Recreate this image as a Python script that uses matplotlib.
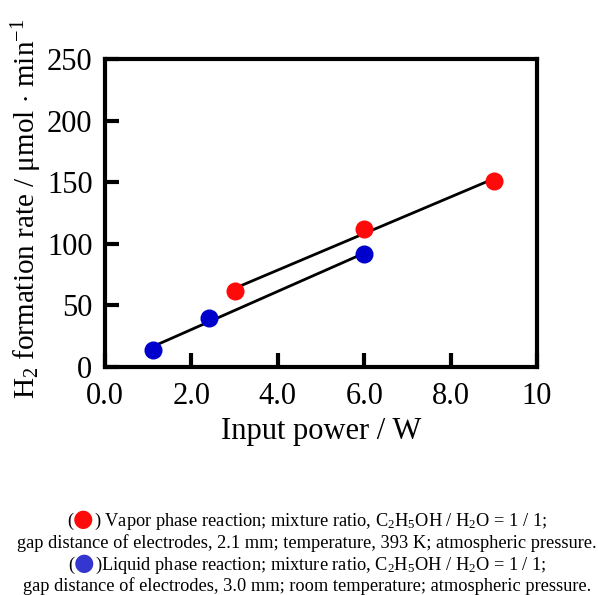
import numpy as np
import matplotlib
matplotlib.use("Agg")
import matplotlib.pyplot as plt
from matplotlib.ticker import FixedLocator, FixedFormatter

# datos
vapor_power = [3.0, 6.0, 9.0]
vapor_rate = [62, 112, 151]
liquid_power = [1.1, 2.4, 6.0]
liquid_rate = [14, 40, 91.5]

x_ticks = [0, 2, 4, 6, 8, 10]
x_tick_labels = ['0.0', '2.0', '4.0', '6.0', '8.0', '10']
y_ticks = [0, 50, 100, 150, 200, 250]

plt.rcParams['font.family'] = ['Liberation Serif', 'DejaVu Serif']
plt.rcParams['mathtext.fontset'] = 'custom'
plt.rcParams['mathtext.rm'] = 'Liberation Serif'
plt.rcParams['mathtext.it'] = 'Liberation Serif:italic'

RED = '#ff0a0a'
BLUE = '#0000cc'


def fit_line(ax, x, y):
    # recta de ajuste por minimos cuadrados entre el primer y el ultimo punto
    p = np.polyfit(x, y, 1)
    xs = np.array([min(x), max(x)])
    ax.plot(xs, np.polyval(p, xs), color='black', lw=2, zorder=2)


def centered_line(fig, y_px, parts, size, cx_px):
    # arma una linea de texto con partes de distinto color, centrada en cx_px
    r = fig.canvas.get_renderer()
    W, H = fig.bbox.width, fig.bbox.height
    texts = []
    for part in parts:
        s, c = part[0], part[1]
        kw = {}
        if len(part) > 2:
            kw = part[2]
        t = fig.text(0, 1 - y_px / H, s, color=c, fontsize=kw.pop('size', size),
                     ha='left', va='baseline', **kw)
        texts.append(t)
    widths = [t.get_window_extent(r).width for t in texts]
    x = cx_px - sum(widths) / 2
    for t, w in zip(texts, widths):
        t.set_x(x / W)
        x += w


fig = plt.figure(figsize=(5.98, 5.95), dpi=100)
ax = fig.add_axes([105 / 598, 1 - 367 / 595, 432 / 598, 308 / 595])

fit_line(ax, vapor_power, vapor_rate)
fit_line(ax, liquid_power, liquid_rate)
ax.plot(vapor_power, vapor_rate, 'o', color=RED, ms=13, mec='none', zorder=3)
ax.plot(liquid_power, liquid_rate, 'o', color=BLUE, ms=13, mec='none', zorder=3)

ax.set_xlim(0, 10)
ax.set_ylim(0, 250)
ax.xaxis.set_major_locator(FixedLocator(x_ticks))
ax.xaxis.set_major_formatter(FixedFormatter(x_tick_labels))
ax.set_yticks(y_ticks)
ax.tick_params(direction='in', length=10, width=3, labelsize=22)
ax.tick_params(axis='x', pad=11)
ax.tick_params(axis='y', pad=9)
for s in ax.spines.values():
    s.set_linewidth(3)

ax.set_xlabel('Input power / W', fontsize=22, labelpad=4)
ax.set_ylabel(r'H$_2$ formation rate / μmol$\,\cdot\,$min$^{-1}$', fontsize=21, labelpad=2)
ax.yaxis.label.set_y(0.515)

fs = 13.2
cx = 307
dot = {'family': 'DejaVu Sans', 'size': 17}
centered_line(fig, 526, [('(', 'black'), ('●', RED, dict(dot)),
                         (r') Vapor phase reaction; mixture ratio, C$_2$H$_5$OH / H$_2$O = 1 / 1;', 'black')],
              fs, cx)
centered_line(fig, 548, [('gap distance of electrodes, 2.1 mm; temperature, 393 K; atmospheric pressure.', 'black')],
              fs, cx)
centered_line(fig, 570, [('(', 'black'), ('●', '#3535d0', dict(dot)),
                         (r')Liquid phase reaction; mixture ratio, C$_2$H$_5$OH / H$_2$O = 1 / 1;', 'black')],
              fs, cx)
centered_line(fig, 591, [('gap distance of electrodes, 3.0 mm; room temperature; atmospheric pressure.', 'black')],
              fs, cx)

fig.savefig('out.png', dpi=100)
